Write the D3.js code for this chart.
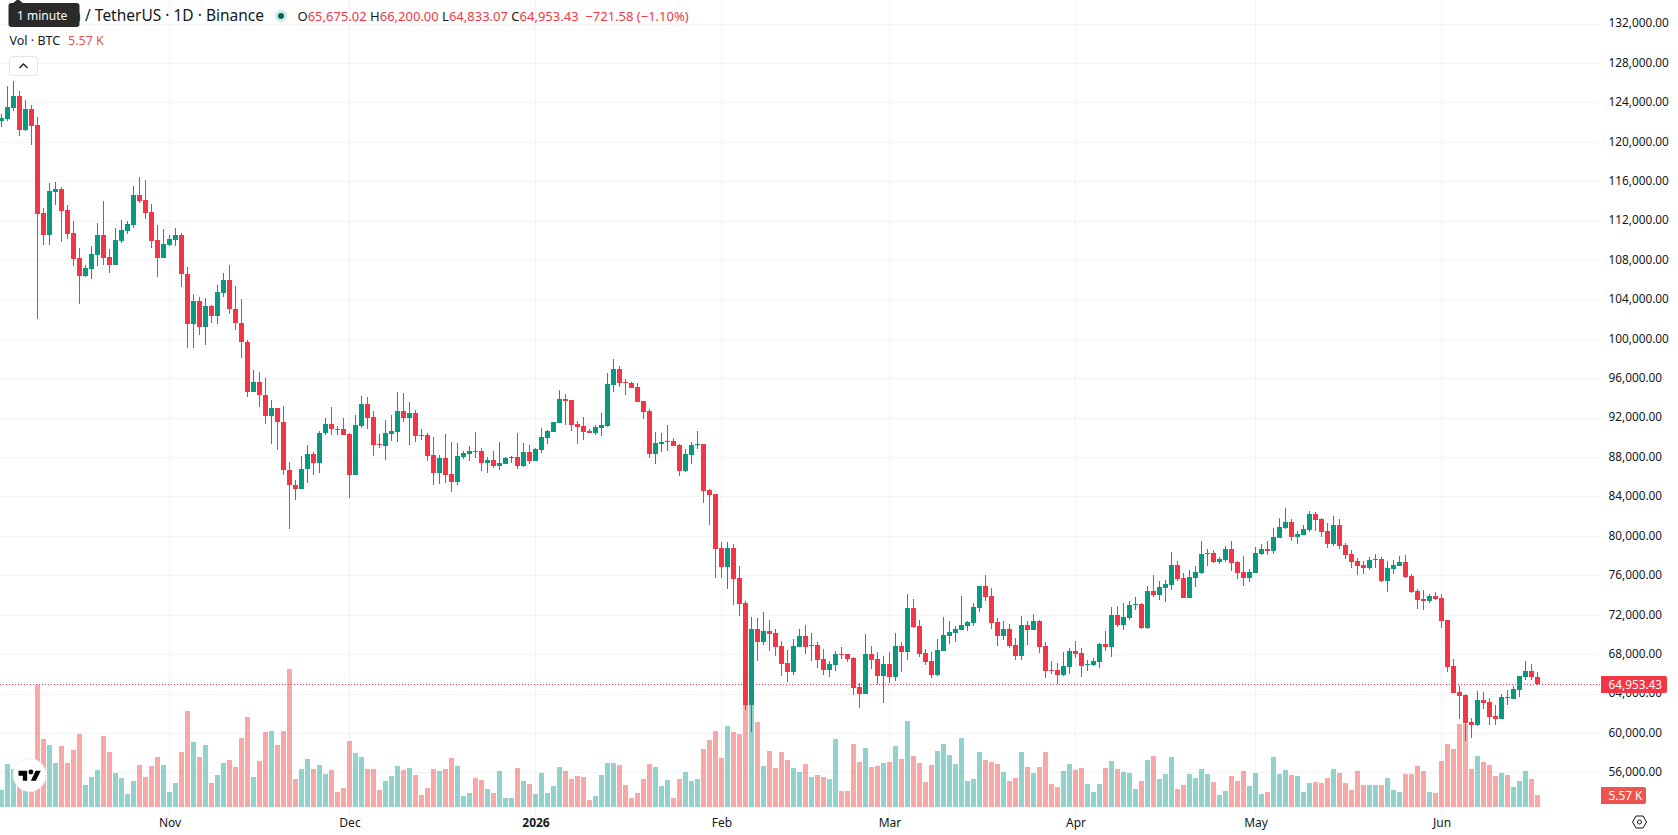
<!DOCTYPE html>
<html>
<head>
<meta charset="utf-8">
<title>Bitcoin / TetherUS 1D</title>
<script src="https://cdn.jsdelivr.net/npm/d3@7/dist/d3.min.js"></script>
<style>
  html, body { margin: 0; padding: 0; background: #fff; overflow: hidden; }
  svg { display: block; font-family: "Noto Sans", sans-serif; }
</style>
</head>
<body>
<svg id="chart" width="1678" height="835"></svg>
<script>
// Daily BTC/USDT session values, in thousands of USDT, first session 2025-10-04.
const firstSession = "2025-10-04";
const opens = [
122.14,122.34,123.46,124.64,121.23,123.32,121.70,112.78,110.58,114.91,
115.21,113.08,110.75,108.22,106.39,107.13,108.55,110.55,108.32,107.54,
109.97,110.99,111.60,114.60,114.10,112.88,110.04,108.25,109.53,110.04,
110.55,106.59,101.46,103.86,101.25,103.35,102.27,104.67,105.98,103.04,
101.62,99.70,94.56,95.64,94.32,92.13,93.01,91.59,86.72,85.20,
84.72,86.75,88.34,87.36,90.40,91.38,90.88,90.86,90.36,86.20,
91.17,93.40,92.08,89.34,89.14,90.36,90.56,92.69,91.98,92.48,
90.25,90.25,88.23,86.40,87.92,86.30,85.49,88.02,88.33,88.63,
88.63,87.41,87.72,87.11,87.31,87.92,88.02,87.11,88.53,87.62,
88.73,89.95,90.56,91.47,93.90,93.80,91.37,91.17,90.66,90.46,
90.96,91.17,95.32,96.95,95.63,95.53,95.12,93.70,92.69,88.33,
89.34,89.54,89.65,89.24,86.60,88.23,89.24,89.35,84.69,84.28,
78.81,76.88,78.81,75.76,73.23,62.89,70.59,69.27,70.39,70.19,
68.87,67.15,66.23,68.77,69.88,68.87,68.97,67.55,66.44,66.94,
68.06,68.06,67.65,64.71,64.00,68.06,67.55,65.83,67.04,65.73,
68.87,68.26,72.72,70.90,68.16,67.35,65.93,68.36,69.88,70.19,
70.49,70.90,71.20,72.72,74.95,73.94,71.30,69.88,70.59,68.97,
67.86,71.00,70.49,71.40,68.87,66.44,66.44,65.88,66.69,68.32,
68.11,66.90,66.90,67.20,69.03,68.72,71.97,70.95,71.66,72.98,
73.08,70.65,74.40,74.00,74.71,75.01,77.04,75.72,73.69,75.72,
76.23,78.15,78.25,77.34,77.54,78.66,77.34,76.33,75.72,76.23,
78.15,78.66,78.46,79.78,80.79,81.40,79.88,80.08,80.59,82.21,
81.70,80.48,79.17,81.09,79.07,78.15,77.44,77.01,76.71,77.52,
77.62,75.39,76.61,76.91,77.32,75.90,74.38,73.57,73.36,73.87,
73.67,71.44,66.77,64.14,63.83,61.09,60.79,63.33,63.12,61.70,
61.40,63.63,63.43,64.34,65.66,66.27,65.67502];
const highs = [
122.82,125.66,126.16,125.15,124.24,123.73,122.51,113.29,115.82,115.92,
115.41,113.59,111.97,109.23,107.51,109.43,111.76,113.99,109.13,111.26,
112.07,111.97,115.52,116.43,116.12,113.69,111.56,111.16,110.55,111.26,
110.75,107.30,104.57,104.26,104.16,103.45,105.48,106.69,107.51,105.38,
104.06,99.90,96.86,96.66,96.05,93.82,93.01,93.21,87.53,85.70,
88.14,89.25,88.54,90.67,91.99,93.11,91.18,91.98,90.46,92.28,
94.21,94.11,92.69,90.36,91.78,92.28,94.61,94.51,93.60,92.79,
90.86,90.46,90.05,88.23,90.36,89.54,89.44,88.63,89.14,90.56,
88.94,88.02,88.63,89.54,88.02,88.12,90.46,89.44,89.24,88.94,
90.96,90.76,91.57,94.82,94.41,93.80,91.67,92.08,90.86,91.27,
92.48,96.54,97.96,97.25,95.93,95.63,95.53,93.70,92.89,90.56,
90.46,91.27,89.95,89.34,88.83,89.54,90.66,89.35,84.79,84.28,
79.41,79.41,79.21,76.98,73.43,71.81,71.71,72.32,71.51,70.59,
69.38,68.46,69.58,70.59,71.00,70.19,69.27,68.57,67.35,68.36,
68.77,68.06,67.75,65.12,70.09,68.87,68.26,67.86,68.26,70.19,
69.27,74.14,73.64,71.51,68.57,68.26,69.58,71.81,71.40,70.90,
73.94,71.40,73.23,74.95,76.07,74.75,71.71,71.40,71.10,69.68,
71.91,71.40,72.11,71.51,69.27,67.35,67.15,68.22,68.62,69.33,
68.62,67.40,67.61,69.13,70.34,72.78,72.88,73.18,73.39,73.79,
73.18,74.91,76.02,75.41,75.52,78.36,77.44,76.23,76.53,76.94,
79.47,78.66,78.56,77.85,78.96,79.47,77.44,77.95,76.63,78.86,
79.17,79.47,80.79,81.80,82.82,81.70,80.48,81.09,82.51,82.41,
81.80,81.30,82.01,81.70,79.27,78.56,77.75,77.42,77.83,78.13,
77.83,77.42,77.52,77.93,78.03,76.10,74.58,74.48,74.07,74.28,
74.07,71.44,67.48,64.74,63.93,61.50,64.24,64.14,63.53,62.82,
63.93,64.34,64.74,65.76,67.28,66.98,66.20];
const lows = [
121.53,122.14,123.16,120.62,121.13,119.71,102.06,109.57,109.57,113.62,
109.87,110.18,107.44,103.58,106.32,106.12,107.44,107.54,106.73,107.54,
109.77,110.68,111.29,113.83,112.20,109.26,106.32,108.25,109.47,109.47,
105.31,99.02,99.02,100.34,99.33,101.56,101.46,104.29,102.57,100.85,
98.01,94.05,94.56,93.04,91.32,89.29,88.68,86.14,80.67,83.61,
84.72,85.33,86.14,86.35,90.20,90.20,90.20,90.25,83.87,86.20,
90.96,90.86,88.12,88.94,87.72,89.65,89.54,91.57,89.24,89.54,
89.75,87.62,85.18,85.29,85.39,84.47,85.18,87.82,87.62,87.92,
86.60,86.40,86.91,86.70,87.31,87.41,86.81,87.01,87.31,87.62,
88.43,89.34,90.56,91.47,91.27,90.66,89.34,89.75,90.46,90.25,
90.15,91.07,94.61,95.12,94.31,95.02,93.60,91.88,87.92,87.31,
88.53,88.63,89.14,86.10,86.50,87.31,88.83,83.37,81.14,75.76,
75.76,74.65,73.03,71.91,62.38,60.05,67.35,68.97,68.36,67.86,
65.83,65.22,65.93,68.77,68.06,67.35,66.64,65.93,65.73,66.33,
67.55,67.25,63.90,62.58,64.00,66.54,65.02,63.09,65.12,65.32,
66.23,67.45,70.69,67.75,66.94,65.62,65.83,68.36,69.07,69.27,
70.49,70.39,70.90,72.32,73.43,70.59,68.87,69.48,68.67,67.45,
67.45,68.97,70.49,68.16,65.62,66.03,65.02,65.78,65.98,67.61,
65.68,66.29,66.80,66.59,68.32,67.71,70.75,70.45,71.46,72.47,
70.55,70.55,73.79,73.49,73.29,74.50,75.41,73.69,73.69,74.81,
76.12,76.94,77.24,77.14,77.34,76.43,75.62,74.91,75.31,76.23,
78.05,78.05,78.15,79.78,80.69,79.47,79.17,80.08,80.38,80.48,
79.88,78.76,78.96,78.66,77.65,76.73,76.02,76.10,76.51,76.71,
75.29,74.28,76.10,76.91,75.70,74.17,72.55,72.45,73.16,73.47,
70.63,66.16,64.03,61.40,59.17,59.47,60.69,62.41,60.79,60.79,
61.40,62.82,63.43,63.63,65.35,65.35,64.83307];
const closes = [
122.41,123.49,124.64,121.23,123.32,121.63,112.71,110.58,115.01,115.21,
113.02,110.68,108.15,106.42,107.20,108.62,110.55,108.25,107.54,110.04,
111.05,111.66,114.60,114.03,112.81,109.97,108.25,109.64,110.14,110.55,
106.53,101.46,103.86,101.25,103.35,102.27,104.77,105.98,102.98,101.56,
99.63,94.56,95.64,94.26,92.13,93.01,91.52,86.65,85.13,84.72,
86.82,88.34,87.36,90.47,91.38,90.81,90.78,90.25,86.20,91.27,
93.40,91.98,89.24,89.24,90.46,90.66,92.69,91.98,92.48,90.15,
90.15,88.12,86.40,87.92,86.20,85.49,88.12,88.43,88.63,88.53,
87.41,87.72,87.11,87.41,87.92,88.02,87.11,88.53,87.62,88.83,
90.05,90.66,91.57,93.90,93.70,91.27,91.07,90.56,90.46,91.07,
91.27,95.43,96.95,95.53,95.53,95.02,93.60,92.59,88.33,89.44,
89.54,89.65,89.14,86.60,88.33,89.24,89.34,84.59,84.18,78.71,
76.88,78.81,75.66,73.13,62.89,70.59,69.27,70.39,70.09,68.77,
67.04,66.23,68.87,69.88,68.77,68.97,67.45,66.44,67.04,68.06,
67.96,67.55,64.61,64.00,68.06,67.45,65.83,67.04,65.73,68.87,
68.26,72.72,70.80,68.06,67.25,65.93,68.46,69.98,70.29,70.59,
71.00,71.30,72.82,74.95,73.84,71.20,69.88,70.59,68.87,67.86,
71.00,70.49,71.40,68.77,66.33,66.33,65.93,66.80,68.32,68.01,
66.80,67.00,67.30,69.03,68.72,71.97,70.95,71.76,72.98,73.08,
70.65,74.40,74.00,74.81,75.11,77.04,75.62,73.69,75.82,76.33,
78.15,78.25,77.34,77.65,78.66,77.24,76.23,75.72,76.33,78.25,
78.66,78.46,79.88,80.89,81.40,79.88,80.18,80.69,82.21,81.60,
80.38,79.17,81.09,78.96,78.05,77.34,76.94,76.71,77.52,77.62,
75.39,76.71,77.01,77.32,75.80,74.28,73.47,73.36,73.87,73.57,
71.34,66.67,64.03,63.73,60.99,60.79,63.33,63.02,61.60,61.40,
63.63,63.53,64.44,65.76,66.27,65.67501,64.95343];
// Session volume in thousands of BTC.
const volumes = [
7.89,19.95,17.63,13.92,7.42,6.96,56.6,31.55,28.77,20.42,
28.30,20.42,26.45,33.87,10.21,13.92,17.17,32.94,25.52,15.78,
13.46,6.03,12.06,19.49,13.92,19.02,23.2,19.49,6.96,11.14,
25.52,44.54,30.16,23.2,28.77,11.14,14.85,20.42,21.81,18.56,
32.02,41.76,13.92,21.34,34.8,35.26,28.77,35.26,64.03,12.99,
17.63,22.27,17.63,19.49,15.31,17.17,6.96,8.82,30.62,25.06,
23.2,17.63,17.63,7.89,12.06,14.38,19.02,17.17,18.10,14.85,
5.57,8.82,17.63,16.7,17.63,22.74,19.02,5.10,6.50,13.46,
12.53,8.35,6.50,16.7,4.18,4.18,18.10,12.06,10.67,6.03,
15.78,6.50,9.74,18.56,16.70,12.99,14.38,13.92,3.25,5.10,
14.85,20.42,20.42,19.49,10.21,4.18,6.50,12.99,19.95,18.56,
9.74,12.53,4.18,12.99,16.24,12.06,12.99,26.91,31.09,35.26,
22.74,37.58,34.8,33.87,51.04,52.9,39.44,19.02,25.98,18.10,
25.52,21.81,18.10,16.24,19.95,13.92,14.85,13.92,12.99,31.55,
7.42,7.42,29.23,20.88,27.38,18.56,19.02,20.42,20.88,28.30,
22.27,39.90,23.66,20.42,11.6,19.49,25.98,29.23,24.13,19.95,
32.02,12.06,12.99,25.52,21.81,20.88,19.95,16.24,12.06,13.46,
25.52,18.56,15.78,18.56,25.52,10.67,9.28,16.70,19.95,17.17,
18.10,10.67,6.96,10.67,18.10,21.34,17.63,16.24,15.78,8.35,
12.06,21.81,23.66,12.99,15.31,23.2,8.35,10.21,15.31,13.46,
17.63,15.31,11.6,5.57,7.42,14.38,12.06,16.7,9.74,15.78,
6.03,6.96,23.2,15.31,17.17,14.85,14.38,6.96,11.14,11.6,
11.14,13.46,17.63,15.78,11.14,7.89,16.70,10.21,10.21,10.21,
10.21,13.46,7.89,6.96,15.31,15.31,19.02,16.70,6.96,6.50,
21.34,29.23,26.91,38.51,38.51,17.63,23.66,20.88,19.49,14.38,
15.78,14.85,9.28,12.06,16.70,12.99,5.57];
// Axis labels.
const priceTicks = d3.range(56, 133, 4);
const monthTicks = [
  ["2025-11-01", "Nov"], ["2025-12-01", "Dec"], ["2026-01-01", "2026"],
  ["2026-02-01", "Feb"], ["2026-03-01", "Mar"], ["2026-04-01", "Apr"],
  ["2026-05-01", "May"], ["2026-06-01", "Jun"]
];
const pairTitle = "Bitcoin / TetherUS · 1D · Binance";

const UP = "#089981", DOWN = "#f23645", INK = "#131722";
const VOL_UP = "rgba(38,166,154,0.5)", VOL_DOWN = "rgba(239,83,80,0.5)";
const GRID = "#f3f3f4";
const plotRight = 1600, plotBottom = 815;

const svg = d3.select("#chart");
const parseDay = d3.utcParse("%Y-%m-%d");
const start = parseDay(firstSession);
const dates = opens.map((_, i) => d3.utcDay.offset(start, i));

const x = d3.scaleUtc().domain([start, dates[dates.length - 1]]).range([1.5, 1537.5]);
const y = d3.scaleLinear().domain([132, 56]).range([23.5, 772.4]);
const vol = d3.scaleLinear().domain([0, 100]).range([807, 591.5]);
const money = d3.format(",.2f");
const last = opens.length - 1;

// Background grid.
const grid = svg.append("g");
grid.selectAll("line.h").data(priceTicks).join("line")
  .attr("x1", 0).attr("x2", plotRight)
  .attr("y1", d => Math.round(y(d)) + 0.5).attr("y2", d => Math.round(y(d)) + 0.5)
  .attr("stroke", GRID);
grid.selectAll("line.v").data(monthTicks).join("line")
  .attr("x1", d => x(parseDay(d[0]))).attr("x2", d => x(parseDay(d[0])))
  .attr("y1", 0).attr("y2", plotBottom)
  .attr("stroke", GRID);

// Volume histogram sits under the candles.
svg.append("g").selectAll("rect").data(volumes).join("rect")
  .attr("x", (d, i) => x(dates[i]) - 2.5)
  .attr("width", 5)
  .attr("y", d => vol(d))
  .attr("height", d => vol(0) - vol(d))
  .attr("fill", (d, i) => closes[i] >= opens[i] ? VOL_UP : VOL_DOWN);

// Last price line.
svg.append("line")
  .attr("x1", 0).attr("x2", plotRight)
  .attr("y1", Math.round(y(closes[last])) + 0.5).attr("y2", Math.round(y(closes[last])) + 0.5)
  .attr("stroke", DOWN).attr("stroke-dasharray", "1 2");

// Candles: one wick and one body per session.
const candles = svg.append("g").selectAll("g").data(dates).join("g")
  .attr("fill", (d, i) => closes[i] >= opens[i] ? UP : DOWN);
candles.append("rect")
  .attr("x", d => x(d) - 0.5).attr("width", 1)
  .attr("y", (d, i) => Math.round(y(highs[i])))
  .attr("height", (d, i) => Math.max(1, Math.round(y(lows[i])) - Math.round(y(highs[i]))));
candles.append("rect")
  .attr("x", d => x(d) - 2.5).attr("width", 5)
  .attr("y", (d, i) => Math.round(y(Math.max(opens[i], closes[i]))))
  .attr("height", (d, i) => Math.max(1, Math.round(y(Math.min(opens[i], closes[i]))) - Math.round(y(Math.max(opens[i], closes[i])))));

// Price axis on the right.
const priceAxis = d3.axisRight(y).tickValues(priceTicks).tickSize(0).tickPadding(0)
  .tickFormat(d => money(d * 1000));
const pa = svg.append("g").attr("transform", "translate(1608.5,-0.5)").call(priceAxis);
pa.select(".domain").remove();
pa.selectAll("text").attr("font-size", 11.8).attr("font-family", "'Noto Sans', sans-serif").attr("fill", INK);

// Month axis along the bottom.
const timeAxis = d3.axisBottom(x).tickValues(monthTicks.map(d => parseDay(d[0]))).tickSize(0).tickPadding(0)
  .tickFormat((d, i) => monthTicks[i][1]);
const ta = svg.append("g").attr("transform", "translate(0,818)").call(timeAxis);
ta.select(".domain").remove();
ta.selectAll("text").attr("font-size", 12).attr("font-family", "'Noto Sans', sans-serif")
  .attr("fill", INK).attr("font-weight", (d, i) => monthTicks[i][1] === "2026" ? 700 : 400);

// Last price and last volume badges on the axis.
const labelGroup = svg.append("g");
const badge = (cy, width, bg, text) => {
  labelGroup.append("path")
    .attr("d", `M1601 ${cy - 8.5}H${1601 + width - 2}a2 2 0 0 1 2 2V${cy + 6.5}a2 2 0 0 1 -2 2H1601Z`)
    .attr("fill", bg);
  labelGroup.append("text").attr("x", 1608.5).attr("y", cy + 4.2)
    .attr("font-size", 11.8).attr("fill", "#fff").text(text);
};
badge(Math.round(y(closes[last])) + 0.5, 66, DOWN, money(closes[last] * 1000));
badge(Math.round(vol(volumes[last])) + 0.5, 45, "#ef5350", volumes[last].toFixed(2) + " K");

// Settings gear in the corner.
const gear = svg.append("g").attr("transform", "translate(1639.5,822)")
  .attr("fill", "none").attr("stroke", INK);
gear.append("path").attr("d", "M-7 0L-3.5 -6H3.5L7 0L3.5 6H-3.5Z");
gear.append("circle").attr("r", 2);

// Legend block, top left.
const legend = svg.append("g").attr("fill", INK);
legend.append("text").attr("x", 264).attr("y", 21).attr("text-anchor", "end")
  .attr("font-size", 15.5).text(pairTitle);
svg.append("circle").attr("cx", 281).attr("cy", 16).attr("r", 6.5).attr("fill", "#d4eeea");
svg.append("circle").attr("cx", 281).attr("cy", 16).attr("r", 3).attr("fill", "#056656");

// Day change is measured from the previous session's close.
const delta = (closes[last] - closes[last - 1]) * 1000;
const pct = delta / (closes[last - 1] * 1000) * 100;
const ohlcText = legend.append("text").attr("x", 297.5).attr("y", 21).attr("font-size", 13);
[["O", opens[last]], ["H", highs[last]], ["L", lows[last]], ["C", closes[last]]].forEach(([k, v]) => {
  ohlcText.append("tspan").attr("fill", INK).text(k);
  ohlcText.append("tspan").attr("fill", DOWN).text(money(v * 1000) + "\u00a0");
});
ohlcText.append("tspan").attr("fill", DOWN)
  .text("\u00a0\u2212" + money(Math.abs(delta)) + " (\u2212" + Math.abs(pct).toFixed(2) + "%)");

legend.append("text").attr("x", 9.5).attr("y", 45).attr("font-size", 12.5).text("Vol · BTC");
legend.append("text").attr("x", 68).attr("y", 45).attr("font-size", 12.5).attr("fill", "#ef5350")
  .text(volumes[last].toFixed(2) + " K");

// Collapse button.
svg.append("rect").attr("x", 9.5).attr("y", 56.5).attr("width", 28).attr("height", 19).attr("rx", 3)
  .attr("fill", "#fff").attr("stroke", "#e0e3eb");
svg.append("path").attr("d", "M19.5 68L23.5 64L27.5 68").attr("fill", "none").attr("stroke", INK).attr("stroke-width", 1.3);

// Hover tooltip covering the start of the title.
svg.append("rect").attr("x", 8.5).attr("y", 3).attr("width", 71).attr("height", 24).attr("rx", 3).attr("fill", "#2a2a2a");
svg.append("path").attr("d", "M12 4L18 -1L24 4Z").attr("fill", "#2a2a2a");
svg.append("text").attr("x", 17).attr("y", 19.5).attr("font-size", 12).attr("fill", "#fff").text("1 minute");

// Attribution badge, bottom left.
svg.append("circle").attr("cx", 29.5).attr("cy", 775).attr("r", 16.5)
  .attr("fill", "#fff").attr("stroke", "#eeeeee");
const mark = svg.append("g").attr("transform", "translate(18.5,767) scale(0.62)").attr("fill", "#000");
mark.append("path").attr("d", "M14 6H0v8h7v8h7V6Zm14 16h-8l7.5-16H36l-8 16Z");
mark.append("circle").attr("cx", 20).attr("cy", 8).attr("r", 4);
</script>
</body>
</html>
